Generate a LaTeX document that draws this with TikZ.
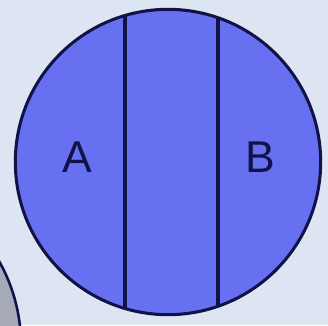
\documentclass[tikz,border=0pt]{standalone}
\usepackage{fontspec}
\setmainfont{Liberation Sans}
\usepackage{xcolor}
\definecolor{paleSky}{RGB}{221,229,242}
\definecolor{discBlue}{RGB}{104,112,242}
\definecolor{inkNavy}{RGB}{16,18,72}
\definecolor{shadeGrey}{RGB}{166,170,182}

\begin{document}
\begin{tikzpicture}[x=1cm,y=1cm]
\path[use as bounding box] (0,0) rectangle (9.84,-9.75);
\fill[paleSky] (0,0) rectangle (9.84,-9.75);

% second disc, cut by the frame
\begin{scope}
\clip (0,0) rectangle (9.84,-9.75);
\draw[fill=shadeGrey,draw=inkNavy,line width=2.2pt] (-4.50,-10.35) circle (5.13cm);
\end{scope}

% main disc with its two chords
\coordinate (centre) at (5.04,-4.86);
\fill[discBlue] (centre) circle (4.58cm);
\begin{scope}
\clip (centre) circle (4.58cm);
\draw[inkNavy,line width=3pt] (3.75,0) -- (3.75,-9.75);
\draw[inkNavy,line width=3pt] (6.54,0) -- (6.54,-9.75);
\end{scope}
\draw[inkNavy,line width=2.6pt] (centre) circle (4.58cm);

\node[text=inkNavy,font=\fontsize{38}{40}\selectfont] (labelA) at (2.31,-4.71) {A};
\node[text=inkNavy,font=\fontsize{38}{40}\selectfont] (labelB) at (7.80,-4.71) {B};
\end{tikzpicture}
\end{document}
